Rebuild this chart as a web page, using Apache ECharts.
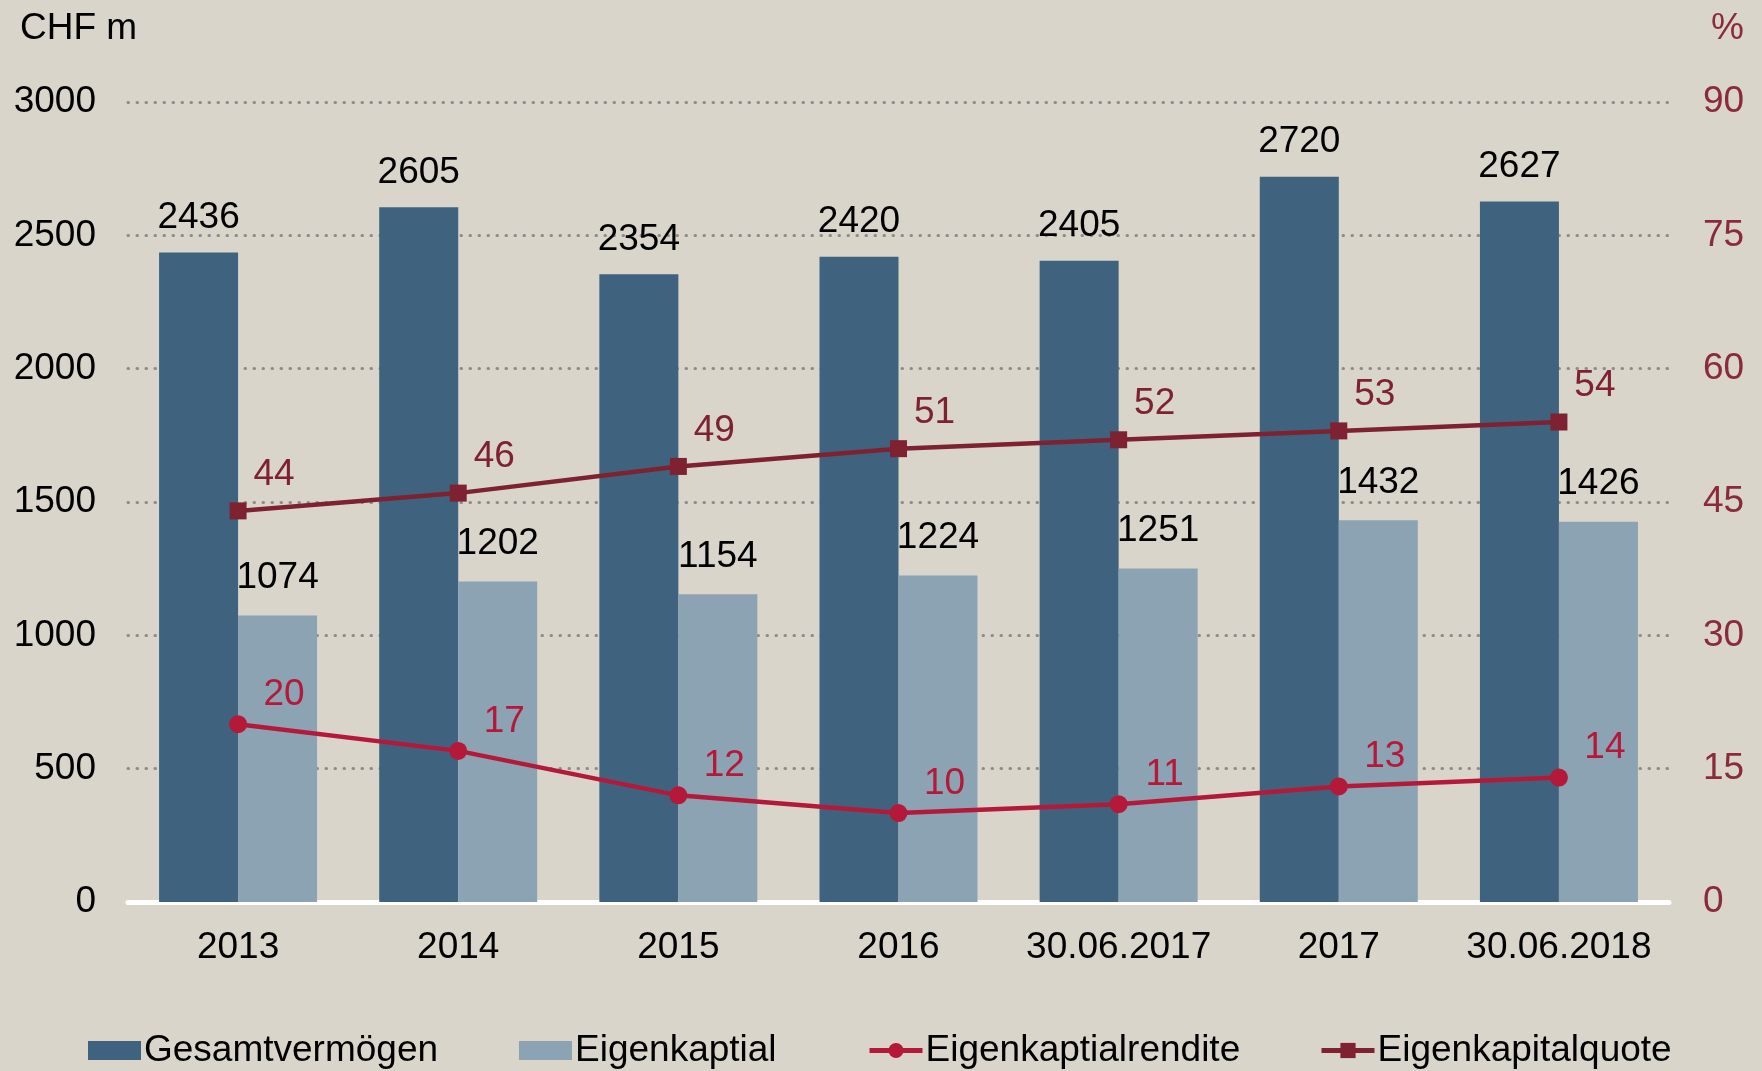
<!DOCTYPE html>
<html>
<head>
<meta charset="utf-8">
<script src="https://cdn.jsdelivr.net/npm/echarts@6/dist/echarts.min.js"></script>
<style>
  html, body { margin: 0; padding: 0; background: #d9d5cb; }
  #chart { width: 1762px; height: 1071px; }
</style>
</head>
<body>
<div id="chart"></div>
<script>
// Kategorien und Werte
var categories = ['2013', '2014', '2015', '2016', '30.06.2017', '2017', '30.06.2018']
var gesamtvermoegen = [2436, 2605, 2354, 2420, 2405, 2720, 2627]
var eigenkapital = [1074, 1202, 1154, 1224, 1251, 1432, 1426]
var rendite = [20, 17, 12, 10, 11, 13, 14]
var quote = [44, 46, 49, 51, 52, 53, 54]
var leftTicks = { min: 0, max: 3000, interval: 500 }
var rightTicks = { min: 0, max: 90, interval: 15 }

var font = 'Liberation Sans, Arial, sans-serif'
var fs = 37
var darkBar = '#3f637e'
var lightBar = '#8ba3b3'
var renditeColor = '#b5193a'
var quoteColor = '#7e2131'
var axisRed = '#8b2a3b'

var chart = echarts.init(document.getElementById('chart'))

const option = {
  backgroundColor: '#d9d5cb',
  textStyle: { fontFamily: font },
  title: [
    { text: 'CHF m', left: 15, top: 5, textStyle: { fontFamily: font, fontSize: fs, fontWeight: 'normal', color: '#000' } },
    { text: '%', left: 1706, top: 5, textStyle: { fontFamily: font, fontSize: fs, fontWeight: 'normal', color: axisRed } }
  ],
  grid: { left: 128, right: 93, top: 102, bottom: 169 },
  legend: [
    { data: [{ name: 'Gesamtvermögen', icon: 'rect' }], left: 88, top: 1032 },
    { data: [{ name: 'Eigenkaptial', icon: 'rect' }], left: 519, top: 1032 },
    { data: ['Eigenkaptialrendite'], left: 867, top: 1032 },
    { data: ['Eigenkapitalquote'], left: 1319, top: 1032 }
  ].map(function (l) {
    l.itemWidth = 53
    l.itemHeight = 19
    l.itemGap = 6
    l.padding = 0
    l.lineStyle = { width: 5 }
    l.textStyle = { fontFamily: font, fontSize: fs, color: '#000', padding: [0, 0, 0, -2] }
    return l
  }),
  xAxis: {
    type: 'category',
    data: categories,
    axisLine: { lineStyle: { color: '#ffffff', width: 5 } },
    axisTick: { show: false },
    axisLabel: { color: '#000', fontSize: fs, fontFamily: font, margin: 27, interval: 0 }
  },
  yAxis: [
    {
      type: 'value',
      min: leftTicks.min,
      max: leftTicks.max,
      interval: leftTicks.interval,
      axisLine: { show: false },
      axisTick: { show: false },
      axisLabel: { color: '#000', fontSize: fs, fontFamily: font, margin: 32, formatter: function (v) { return String(v) } },
      splitLine: { lineStyle: { color: '#8c8c8c', width: 3, type: [0.5, 8.5], cap: 'round' } }
    },
    {
      type: 'value',
      min: rightTicks.min,
      max: rightTicks.max,
      interval: rightTicks.interval,
      axisLine: { show: false },
      axisTick: { show: false },
      splitLine: { show: false },
      axisLabel: { color: axisRed, fontSize: fs, fontFamily: font, margin: 34 }
    }
  ],
  series: [
    {
      name: 'Gesamtvermögen',
      type: 'bar',
      data: gesamtvermoegen,
      barWidth: 79,
      barGap: '0%',
      itemStyle: { color: darkBar },
      label: { show: true, position: 'top', distance: 16, color: '#000', fontSize: fs, fontFamily: font }
    },
    {
      name: 'Eigenkaptial',
      type: 'bar',
      data: eigenkapital,
      barWidth: 79,
      barGap: '0%',
      itemStyle: { color: lightBar },
      label: { show: true, position: 'top', distance: 19, color: '#000', fontSize: fs, fontFamily: font }
    },
    {
      name: 'Eigenkaptialrendite',
      type: 'line',
      yAxisIndex: 1,
      data: rendite,
      symbol: 'circle',
      symbolSize: 18,
      lineStyle: { color: renditeColor, width: 4.5 },
      itemStyle: { color: renditeColor },
      label: { show: true, position: 'top', offset: [46, 3], color: renditeColor, fontSize: fs, fontFamily: font }
    },
    {
      name: 'Eigenkapitalquote',
      type: 'line',
      yAxisIndex: 1,
      data: quote,
      symbol: 'rect',
      symbolSize: 17,
      lineStyle: { color: quoteColor, width: 4.5 },
      itemStyle: { color: quoteColor },
      label: { show: true, position: 'top', offset: [36, -4], color: quoteColor, fontSize: fs, fontFamily: font }
    }
  ]
}

chart.setOption(option)
</script>
</body>
</html>
